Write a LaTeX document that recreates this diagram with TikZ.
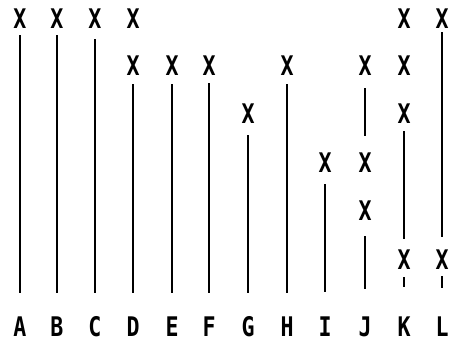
\documentclass[tikz,border=0pt]{standalone}
\usepackage{fontspec}
\newfontfamily\termfont{DejaVu Sans Mono}
\begin{document}
\begin{tikzpicture}[x=1pt, y=-1pt,
    xmark/.style={font=\termfont\bfseries\fontsize{27}{27}\selectfont, inner sep=0pt, xscale=0.8},
    colname/.style={font=\termfont\bfseries\fontsize{27}{27}\selectfont, inner sep=0pt, xscale=0.8},
    bar/.style={line width=1.6pt}]
    \useasboundingbox (0,0) rectangle (457,344);

    % column letters and the base line of the bars
    \foreach \c/\x in {A/20,B/57,C/95,D/133,E/172,F/209,G/248,H/287,I/325,J/365,K/404,L/442} {
        \node[colname] (l\c) at (\x,327) {\c};
    }
    \coordinate (base) at (0,293);

    % the X marks (rows at 19, 66, 114, 163, 211, 260)
    \node[xmark] (xA) at (lA |- 0,19) {X};
    \node[xmark] (xB) at (lB |- 0,19) {X};
    \node[xmark] (xC) at (lC |- 0,19) {X};
    \node[xmark] (xD1) at (lD |- 0,19) {X};
    \node[xmark] (xD2) at (lD |- 0,66) {X};
    \node[xmark] (xE) at (lE |- 0,66) {X};
    \node[xmark] (xF) at (lF |- 0,66) {X};
    \node[xmark] (xG) at (lG |- 0,114) {X};
    \node[xmark] (xH) at (lH |- 0,66) {X};
    \node[xmark] (xI) at (lI |- 0,163) {X};
    \node[xmark] (xJ1) at (lJ |- 0,66) {X};
    \node[xmark] (xJ2) at (lJ |- 0,163) {X};
    \node[xmark] (xJ3) at (lJ |- 0,211) {X};
    \node[xmark] (xK1) at (lK |- 0,19) {X};
    \node[xmark] (xK2) at (lK |- 0,66) {X};
    \node[xmark] (xK3) at (lK |- 0,114) {X};
    \node[xmark] (xK4) at (lK |- 0,260) {X};
    \node[xmark] (xL1) at (lL |- 0,19) {X};
    \node[xmark] (xL2) at (lL |- 0,260) {X};

    % bars
    \draw[bar] ([yshift=-6pt]xA.south) -- (lA |- base);
    \draw[bar] ([yshift=-6pt]xB.south) -- (lB |- base);
    \draw[bar] ([yshift=-10pt]xC.south) -- (lC |- base);
    \draw[bar] ([yshift=-8pt]xD2.south) -- (lD |- base);
    \draw[bar] ([yshift=-8pt]xE.south) -- (lE |- base);
    \draw[bar] ([yshift=-7pt]xF.south) -- (lF |- base);
    \draw[bar] ([yshift=-11pt]xG.south) -- (lG |- base);
    \draw[bar] ([yshift=-8pt]xH.south) -- (lH |- base);
    \draw[bar] ([yshift=-11pt]xI.south) -- ([yshift=1pt]lI |- base);
    \draw[bar] ([yshift=-12pt]xJ1.south) -- ([yshift=17pt]xJ2.north);
    \draw[bar] ([yshift=-15pt]xJ3.south) -- ([yshift=4pt]lJ |- base);
    \draw[bar] ([yshift=-7pt]xK3.south) -- ([yshift=11pt]xK4.north);
    \draw[bar] ([yshift=-7pt]xK4.south) -- ([yshift=6pt]lK |- base);
    \draw[bar] ([yshift=-3pt]xL1.south) -- ([yshift=13pt]xL2.north);
    \draw[bar] ([yshift=-6pt]xL2.south) -- ([yshift=5pt]lL |- base);
\end{tikzpicture}
\end{document}
